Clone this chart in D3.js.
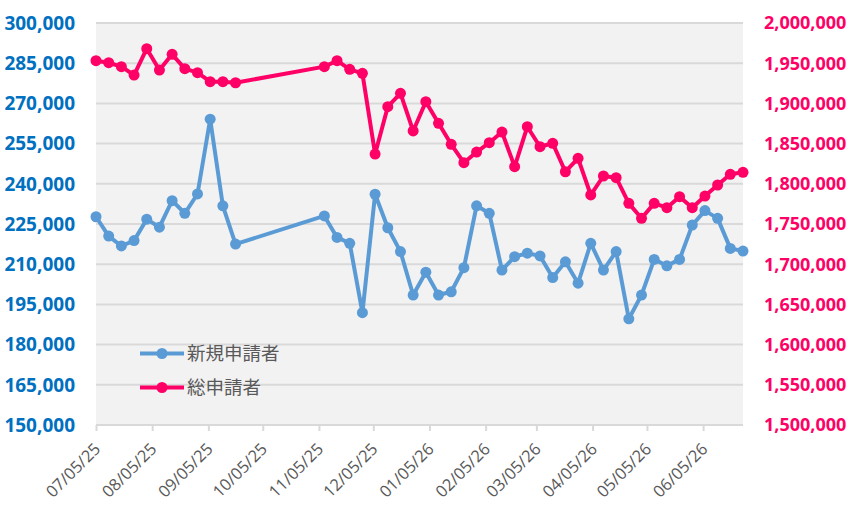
<!DOCTYPE html>
<html>
<head>
<meta charset="utf-8">
<script src="https://cdn.jsdelivr.net/npm/d3@7"></script>
<style>
  body { margin: 0; background: #fff; }
  svg { display: block; }
</style>
</head>
<body>
<svg id="chart" width="851" height="520"></svg>
<script>
// week-ending dates (mm/dd/yy); no data for Oct 2025
const weeks = [
  '07/05/25', '07/12/25', '07/19/25', '07/26/25', '08/02/25', '08/09/25',
  '08/16/25', '08/23/25', '08/30/25', '09/06/25', '09/13/25', '09/20/25',
  '11/08/25', '11/15/25', '11/22/25', '11/29/25', '12/06/25', '12/13/25',
  '12/20/25', '12/27/25', '01/03/26', '01/10/26', '01/17/26', '01/24/26',
  '01/31/26', '02/07/26', '02/14/26', '02/21/26', '02/28/26', '03/07/26',
  '03/14/26', '03/21/26', '03/28/26', '04/04/26', '04/11/26', '04/18/26',
  '04/25/26', '05/02/26', '05/09/26', '05/16/26', '05/23/26', '05/30/26',
  '06/06/26', '06/13/26', '06/20/26', '06/27/26'
];

// 新規申請者 (left axis)
const newClaims = [
  227700, 220500, 216800, 218800, 226800, 223800,
  233700, 229000, 236200, 264100, 231800, 217500,
  228000, 220000, 217800, 191900, 236100, 223600,
  214700, 198500, 207000, 198500, 199700, 208700,
  231800, 229000, 207800, 212800, 214100, 213100,
  205000, 210900, 202900, 217800, 207800, 214700,
  189600, 198500, 211800, 209400, 211800, 224600,
  230000, 227100, 215900, 214900
];

// 総申請者 (right axis)
const totalClaims = [
  1953100, 1950600, 1945700, 1935300, 1968000, 1941500,
  1961000, 1943200, 1938200, 1927000, 1927000, 1925700,
  1945700, 1953100, 1942400, 1937400, 1837000, 1895900,
  1912600, 1865700, 1902100, 1875200, 1849100, 1826200,
  1839500, 1851100, 1864400, 1821300, 1871000, 1846100,
  1850400, 1815000, 1831700, 1786100, 1809700, 1807600,
  1775700, 1757100, 1775700, 1770300, 1784000, 1770300,
  1784800, 1798500, 1811800, 1814300
];

const monthTicks = [
  '07/05/25', '08/05/25', '09/05/25', '10/05/25', '11/05/25', '12/05/25',
  '01/05/26', '02/05/26', '03/05/26', '04/05/26', '05/05/26', '06/05/26'
];

const leftTicks = d3.range(150000, 300001, 15000);
const rightTicks = d3.range(1500000, 2000001, 50000);

const seriesInfo = [
  { name: '新規申請者', values: newClaims, axis: 'left', color: '#5B9BD5' },
  { name: '総申請者', values: totalClaims, axis: 'right', color: '#FF0066' }
];

const parse = d3.timeParse('%m/%d/%y');
const fmt = d3.format(',');

const svg = d3.select('#chart');
const margin = { top: 23, right: 108, bottom: 95, left: 96 };
const width = 851 - margin.left - margin.right;
const height = 520 - margin.top - margin.bottom;

const dates = weeks.map(parse);

const x = d3.scaleTime()
  .domain(d3.extent(dates))
  .range([margin.left, margin.left + width]);

const yLeft = d3.scaleLinear()
  .domain([150000, 300000])
  .range([margin.top + height, margin.top]);

const yRight = d3.scaleLinear()
  .domain([1500000, 2000000])
  .range([margin.top + height, margin.top]);

// plot background
svg.append('rect')
  .attr('x', margin.left)
  .attr('y', margin.top)
  .attr('width', width)
  .attr('height', height)
  .attr('fill', '#F2F2F2');

// gridlines
svg.append('g')
  .selectAll('line')
  .data(leftTicks)
  .join('line')
  .attr('x1', margin.left)
  .attr('x2', margin.left + width)
  .attr('y1', d => yLeft(d))
  .attr('y2', d => yLeft(d))
  .attr('stroke', '#D9D9D9')
  .attr('stroke-width', 2);

// left axis labels
svg.append('g')
  .selectAll('text')
  .data(leftTicks)
  .join('text')
  .attr('x', 75)
  .attr('y', d => yLeft(d))
  .attr('dy', '0.36em')
  .attr('text-anchor', 'end')
  .attr('font-family', 'Open Sans, sans-serif')
  .attr('font-weight', 700)
  .attr('font-size', 19)
  .attr('fill', '#0070C0')
  .text(d => fmt(d));

// right axis labels
svg.append('g')
  .selectAll('text')
  .data(rightTicks)
  .join('text')
  .attr('x', 764)
  .attr('y', d => yRight(d))
  .attr('dy', '0.36em')
  .attr('text-anchor', 'start')
  .attr('font-family', 'Open Sans, sans-serif')
  .attr('font-weight', 700)
  .attr('font-size', 18)
  .attr('fill', '#FF0066')
  .text(d => fmt(d));

// x axis
const xAxis = d3.axisBottom(x)
  .tickValues(monthTicks.map(parse))
  .tickSize(6)
  .tickFormat(d3.timeFormat('%m/%d/%y'));

const gx = svg.append('g')
  .attr('transform', `translate(0, ${margin.top + height})`)
  .call(xAxis);

gx.select('.domain')
  .attr('stroke', '#D9D9D9')
  .attr('stroke-width', 2)
  .attr('d', `M${margin.left},0H${margin.left + width}`);

gx.selectAll('.tick line')
  .attr('stroke', '#D9D9D9')
  .attr('stroke-width', 2);

gx.selectAll('.tick text')
  .attr('font-family', 'Open Sans, sans-serif')
  .attr('font-size', 16.5)
  .attr('fill', '#595959')
  .attr('text-anchor', 'end')
  .attr('y', 0)
  .attr('dy', 0)
  .attr('transform', 'translate(5, 25) rotate(-45)');

// series
seriesInfo.forEach(s => {
  const yScale = s.axis === 'left' ? yLeft : yRight;
  const pts = s.values.map((v, i) => ({ date: dates[i], value: v }));

  svg.append('path')
    .datum(pts)
    .attr('fill', 'none')
    .attr('stroke', s.color)
    .attr('stroke-width', 4)
    .attr('stroke-linejoin', 'round')
    .attr('d', d3.line().x(d => x(d.date)).y(d => yScale(d.value)));

  svg.append('g')
    .selectAll('circle')
    .data(pts)
    .join('circle')
    .attr('cx', d => x(d.date))
    .attr('cy', d => yScale(d.value))
    .attr('r', 5.5)
    .attr('fill', s.color);
});

// legend
const legend = svg.append('g')
  .selectAll('g')
  .data(seriesInfo)
  .join('g')
  .attr('transform', (d, i) => `translate(140, ${353.5 + i * 34})`);

legend.append('line')
  .attr('x1', 0)
  .attr('x2', 44)
  .attr('stroke', d => d.color)
  .attr('stroke-width', 4);

legend.append('circle')
  .attr('cx', 22)
  .attr('r', 5.5)
  .attr('fill', d => d.color);

legend.append('text')
  .attr('x', 47)
  .attr('dy', '0.36em')
  .attr('font-family', 'Noto Sans CJK JP, sans-serif')
  .attr('font-size', 18.5)
  .attr('fill', '#595959')
  .text(d => d.name);
</script>
</body>
</html>
